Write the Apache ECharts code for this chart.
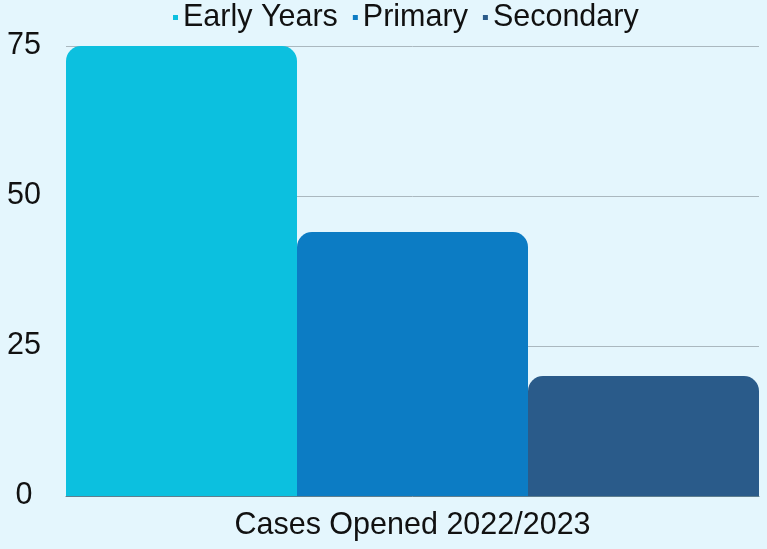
<!DOCTYPE html>
<html>
<head>
<meta charset="utf-8">
<script src="https://cdn.jsdelivr.net/npm/echarts@6/dist/echarts.min.js"></script>
<style>
  html, body { margin: 0; padding: 0; background: #e4f6fd; }
  #chart { width: 767px; height: 549px; }
</style>
</head>
<body>
<div id="chart"></div>
<script>
const categories = ['Cases Opened 2022/2023'];
const seriesNames = ['Early Years', 'Primary', 'Secondary'];
const earlyYears = [75];
const primary = [44];
const secondary = [20];
const colors = ['#0cc0df', '#0c7cc4', '#2a5b8a'];

const chart = echarts.init(document.getElementById('chart'));

const makeSeries = (name, data, color) => ({
  name,
  type: 'bar',
  data,
  barGap: 0,
  barCategoryGap: 0,
  itemStyle: { color, borderRadius: [15, 15, 0, 0] }
});

const option = {
  backgroundColor: '#e4f6fd',
  textStyle: { fontFamily: 'Liberation Sans, Arial, sans-serif' },
  legend: {
    top: 2,
    left: 168,
    padding: [0, 5],
    icon: 'rect',
    itemWidth: 5,
    itemHeight: 5,
    itemGap: 15,
    textStyle: { fontSize: 30.5, color: '#111' },
    data: seriesNames
  },
  grid: { left: 66, right: 8, top: 46, bottom: 53 },
  xAxis: {
    type: 'category',
    data: categories,
    axisTick: { show: false },
    axisLine: { lineStyle: { color: '#5f7f8f', width: 1 } },
    axisLabel: { fontSize: 30.5, color: '#111', margin: 14 }
  },
  yAxis: {
    type: 'value',
    min: 0,
    max: 75,
    interval: 25,
    axisLine: { show: false },
    axisTick: { show: false },
    splitLine: { lineStyle: { color: '#aab8bf', width: 1 } },
    axisLabel: { fontSize: 30.5, color: '#111', align: 'center', margin: 42, padding: [0, 0, 5, 0] }
  },
  series: [
    makeSeries(seriesNames[0], earlyYears, colors[0]),
    makeSeries(seriesNames[1], primary, colors[1]),
    makeSeries(seriesNames[2], secondary, colors[2])
  ]
};

chart.setOption(option);
</script>
</body>
</html>
